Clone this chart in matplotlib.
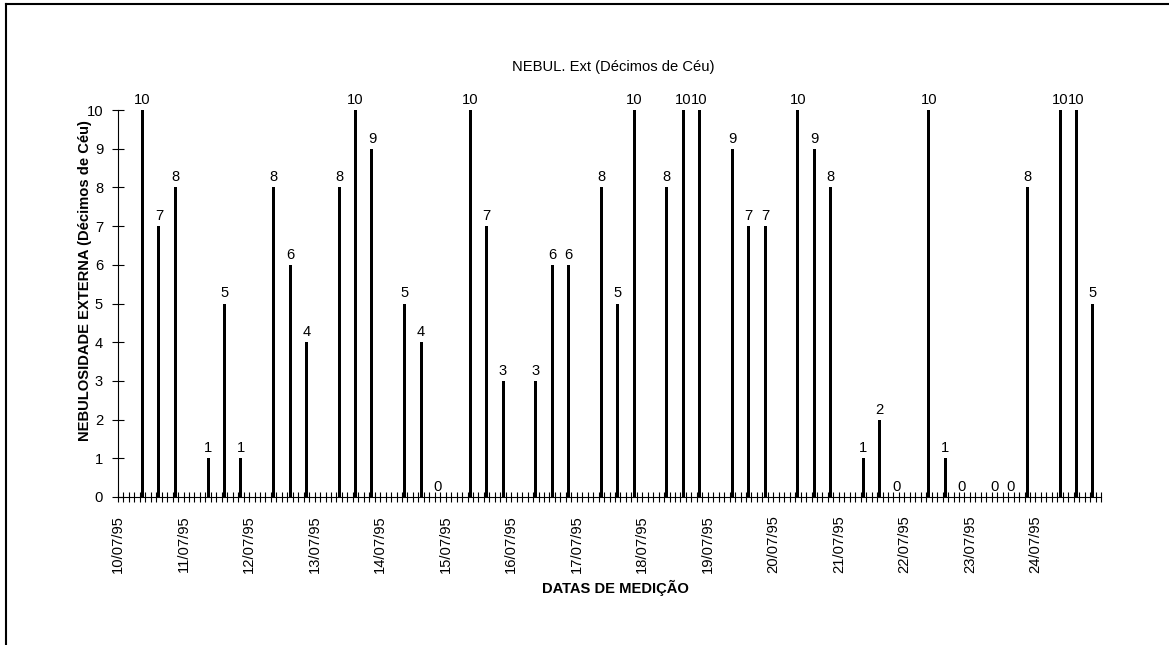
import numpy as np
import matplotlib
matplotlib.use("Agg")
import matplotlib.pyplot as plt
from matplotlib.lines import Line2D

plt.rcParams['font.family'] = ['Liberation Sans', 'DejaVu Sans']

# datas de medição (um dia = 12 intervalos de 2 horas no eixo)
datas = ['10/07/95', '11/07/95', '12/07/95', '13/07/95', '14/07/95',
         '15/07/95', '16/07/95', '17/07/95', '18/07/95', '19/07/95',
         '20/07/95', '21/07/95', '22/07/95', '23/07/95', '24/07/95']
# horas das observações (9h, 15h, 21h)
horas_obs = [9, 15, 21]
# nebulosidade externa em décimos de céu, 3 leituras por dia
nebul = [10, 7, 8,
         1, 5, 1,
         8, 6, 4,
         8, 10, 9,
         5, 4, 0,
         10, 7, 3,
         3, 6, 6,
         8, 5, 10,
         8, 10, 10,
         9, 7, 7,
         10, 9, 8,
         1, 2, 0,
         10, 1, 0,
         0, 0, 8,
         10, 10, 5]

SLOTS_DIA = 12  # intervalos de 2h por dia
FS = 10.6

# posição de cada leitura no eixo categórico
pos = []
for d in range(len(datas)):
    for h in horas_obs:
        pos.append(d * SLOTS_DIA + h // 2 + 0.5)
pos = np.array(pos)

fig = plt.figure(figsize=(11.69, 6.45), dpi=100)
ax = fig.add_axes([118 / 1169, 1 - 497 / 645, (1101 - 118) / 1169, (497 - 110) / 645])

ax.bar(pos, nebul, width=0.55, color='black')
for x, v in zip(pos, nebul):
    ax.annotate(str(v), (x, v), xytext=(0, 2.2), textcoords='offset points',
                ha='center', va='bottom', fontsize=FS)

n_slots = len(datas) * SLOTS_DIA
ax.set_xlim(0, n_slots)
ax.set_ylim(0, 10)
ax.set_yticks(range(0, 11))
ax.set_xticks(np.arange(len(datas)) * SLOTS_DIA)
ax.set_xticklabels(datas, rotation=90, fontsize=FS)
ax.set_xticks(np.arange(n_slots + 1), minor=True)
ax.tick_params(axis='y', direction='inout', length=8.6, width=0.8, labelsize=FS, pad=6.5)
ax.tick_params(axis='x', which='both', direction='inout', length=6.5, width=0.8, pad=10)

for s in ['top', 'right']:
    ax.spines[s].set_visible(False)
ax.spines['left'].set_linewidth(0.8)
ax.spines['bottom'].set_linewidth(0.8)

ax.set_title('NEBUL. Ext (Décimos de Céu)', fontsize=FS, pad=28, x=0.5035)
ax.set_ylabel('NEBULOSIDADE EXTERNA (Décimos de Céu)', fontsize=FS, fontweight='bold')
ax.yaxis.set_label_coords(-0.0264, 0.558)
ax.set_xlabel('DATAS DE MEDIÇÃO', fontsize=FS, fontweight='bold')
ax.xaxis.set_label_coords(0.5056, -0.215)

# moldura (só as bordas esquerda e superior aparecem)
fig.add_artist(Line2D([6 / 1169, 6 / 1169], [0, 1 - 4 / 645], transform=fig.transFigure, color='black', lw=1.5))
fig.add_artist(Line2D([6 / 1169, 1], [1 - 4 / 645, 1 - 4 / 645], transform=fig.transFigure, color='black', lw=1.5))

fig.savefig('out.png', dpi=100)
plt.close(fig)
